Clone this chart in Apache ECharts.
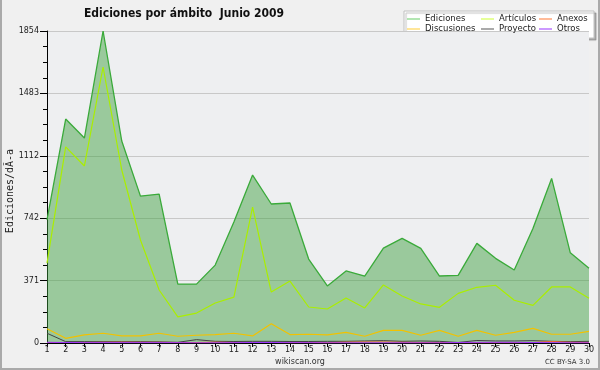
<!DOCTYPE html>
<html><head><meta charset="utf-8">
<script src="https://cdn.jsdelivr.net/npm/echarts@6/dist/echarts.min.js"></script>
<style>html,body{margin:0;padding:0;background:#f0f0f0}#c{width:600px;height:370px}</style>
</head><body><div id="c"></div>
<script>
var days = ['1','2','3','4','5','6','7','8','9','10','11','12','13','14','15','16','17','18','19','20','21','22','23','24','25','26','27','28','29','30'];
var ediciones = [731,1331,1218,1854,1200,873,885,350,350,463,719,998,826,832,499,339,428,398,564,622,562,398,402,592,503,434,681,978,536,444];
var articulos = [475,1165,1052,1640,1028,612,315,155,178,238,273,808,303,368,214,202,267,208,345,279,232,212,295,331,343,254,224,333,333,266];
var discusiones = [85,28,48,58,42,42,58,40,46,50,58,42,115,50,52,48,63,40,75,75,46,75,40,75,46,63,87,52,52,69];
var proyecto = [58,8,8,8,8,8,7,4,20,10,9,10,10,9,9,10,10,12,14,10,12,10,3,15,12,12,14,10,8,10];
var anexos = [3,3,3,4,5,4,4,3,3,5,3,3,3,2,3,2,5,6,6,4,3,3,2,2,2,2,3,9,4,3];
var otros = [4,3,2,2,2,2,2,2,1,1,2,3,3,2,2,1,1,1,1,1,1,1,3,4,4,4,3,2,1,1];
var yTicks = [0,371,742,1112,1483,1854];
var yMax = 1854, yStep = 1854/5;

var chart = echarts.init(document.getElementById('c'), null, {renderer:'canvas'});
var F = "'DejaVu Sans', sans-serif";
function ln(name, data, color, w, z){
  return {name:name, type:'line', data:data, symbol:'none', z:z||3,
    lineStyle:{color:color, width:w||1}, itemStyle:{color:color}, animation:false};
}
var legStyle = {fontSize:8.5, fontFamily:F, color:'#222', lineHeight:10};
function leg(data, left){
  return {data:data, orient:'vertical', left:left, top:14, itemWidth:13, itemHeight:1, itemGap:0,
    padding:0, textStyle:legStyle, selectedMode:false, icon:'rect'};
}
function li(name, color){ return {name:name, icon:'rect', itemStyle:{color:color, borderWidth:0}}; }
var edi = ln('Ediciones', ediciones, '#3aaa3a', 1.3, 2);
edi.areaStyle = {color:'rgba(59,160,59,0.47)', opacity:1};
chart.setOption({
  backgroundColor:'#f0f0f0',
  animation:false,
  grid:{left:47, right:11, top:31, bottom:27, show:true, backgroundColor:'#eeeff1', borderWidth:0,
    containLabel:false, outerBoundsMode:'none'},
  xAxis:{type:'category', data:days, boundaryGap:false,
    axisLine:{lineStyle:{color:'#000', width:1}},
    axisTick:{show:true, length:4, alignWithLabel:true, lineStyle:{color:'#000'}},
    axisLabel:{fontSize:8, fontFamily:F, color:'#222', margin:3, interval:0},
    splitLine:{show:false}},
  yAxis:{type:'value', min:0, max:yMax, interval:yStep,
    axisLine:{show:true, lineStyle:{color:'#000', width:1}},
    axisTick:{show:true, length:7, lineStyle:{color:'#000'}},
    minorTick:{show:true, splitNumber:4, length:4, lineStyle:{color:'#000'}},
    axisLabel:{fontSize:8, fontFamily:F, color:'#222', margin:8,
      formatter:function(v){ return String(yTicks[Math.round(v/yStep)]); }},
    splitLine:{show:true, lineStyle:{color:'#c8c8c8', width:1}}},
  legend:[
    leg([li('Ediciones','#66cc66'), li('Discusiones','#ffcc33')], 407),
    leg([li('Artículos','#ccff33'), li('Proyecto','#555555')], 481),
    leg([li('Anexos','#ff7733'), li('Otros','#9933ff')], 539)
  ],
  graphic:[
    {type:'rect', z:-1, shape:{x:404, y:11, width:190, height:27},
      style:{fill:'#fff', stroke:'#c0c0c0', lineWidth:1, shadowBlur:1, shadowOffsetX:2, shadowOffsetY:2, shadowColor:'rgba(0,0,0,0.25)'}},
    {type:'text', x:184, y:14, style:{text:'Ediciones por ámbito  Junio 2009', font:"bold 12px 'DejaVu Sans Condensed', 'DejaVu Sans', sans-serif",
      fill:'#111', textAlign:'center', textVerticalAlign:'middle'}},
    {type:'text', x:10, y:191, rotation:Math.PI/2, style:{text:'Ediciones/dÃ-a', font:"10px 'DejaVu Sans Mono', monospace", fill:'#222', textAlign:'center', textVerticalAlign:'middle'}},
    {type:'text', x:300, y:362, style:{text:'wikiscan.org', font:"8px 'DejaVu Sans', sans-serif", fill:'#333', textAlign:'center', textVerticalAlign:'middle'}},
    {type:'text', x:590, y:362, style:{text:'CC BY-SA 3.0', font:"7px 'DejaVu Sans', sans-serif", fill:'#333', textAlign:'right', textVerticalAlign:'middle'}},
    {type:'polyline', shape:{points:[[1,0],[1,369],[599,369],[599,0]]}, style:{stroke:'#aaa', lineWidth:2, fill:null}}
  ],
  series:[
    edi,
    ln('Artículos', articulos, '#aaee00', 1.2, 3),
    ln('Discusiones', discusiones, '#f2c200', 1.2, 3),
    ln('Proyecto', proyecto, '#444444', 1, 3),
    ln('Anexos', anexos, '#ff6633', 1, 3),
    ln('Otros', otros, '#9933ff', 1, 4)
  ]
});
</script></body></html>
